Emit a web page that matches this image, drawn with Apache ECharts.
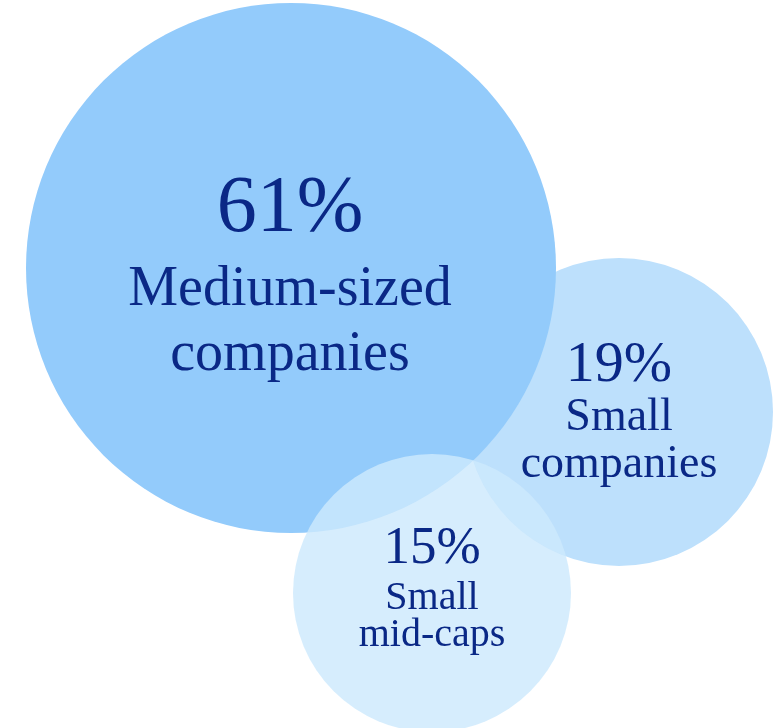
<!DOCTYPE html>
<html>
<head>
<meta charset="utf-8">
<script src="https://cdn.jsdelivr.net/npm/echarts@6/dist/echarts.min.js"></script>
<style>
html,body{margin:0;padding:0;background:#fff;}
#chart{width:773px;height:728px;}
</style>
</head>
<body>
<div id="chart"></div>
<script>
// ---- data ----
var categories = ['Medium-sized companies', 'Small companies', 'Small mid-caps'];
var labelLines = [['Medium-sized', 'companies'], ['Small', 'companies'], ['Small', 'mid-caps']];
var shares = [61, 19, 15];

// ---- layout (pixel-space coordinates of the value axes) ----
var centerX = [291, 619, 432];
var centerY = [268, 412, 593];
var radius = [265, 154, 139];
var drawOrder = [1, 0, 2];
var fills = ['#93CBFB', '#BDE0FC', 'rgba(205,233,253,0.82)'];
var textColor = '#0a2886';
var serif = "'Liberation Serif','Times New Roman',serif";
var rich = [
  {p: {fontSize: 80, lineHeight: 96}, t: {fontSize: 56, lineHeight: 65}, off: [-1, 7]},
  {p: {fontSize: 58, lineHeight: 57}, t: {fontSize: 46, lineHeight: 47}, off: [0, 1]},
  {p: {fontSize: 53, lineHeight: 62}, t: {fontSize: 40, lineHeight: 37}, off: [0, -7]}
];

var seriesData = drawOrder.map(function (i) {
  var r = rich[i];
  return {
    name: categories[i],
    value: [centerX[i], centerY[i], shares[i]],
    symbolSize: radius[i] * 2,
    itemStyle: {color: fills[i]},
    label: {
      show: true,
      position: 'inside',
      offset: r.off,
      formatter: '{p|' + shares[i] + '%}\n' + labelLines[i].map(function (l) { return '{t|' + l + '}'; }).join('\n'),
      rich: {
        p: {fontSize: r.p.fontSize, lineHeight: r.p.lineHeight, fontFamily: serif, color: textColor, align: 'center'},
        t: {fontSize: r.t.fontSize, lineHeight: r.t.lineHeight, fontFamily: serif, color: textColor, align: 'center'}
      }
    }
  };
});

var chart = echarts.init(document.getElementById('chart'), null, {renderer: 'canvas'});
chart.setOption({
  animation: false,
  grid: {left: 0, right: 0, top: 0, bottom: 0},
  xAxis: {type: 'value', min: 0, max: 773, show: false},
  yAxis: {type: 'value', min: 0, max: 728, inverse: true, show: false},
  series: [{
    type: 'scatter',
    silent: true,
    symbol: 'circle',
    data: seriesData,
    itemStyle: {opacity: 1, borderWidth: 0},
    emphasis: {disabled: true}
  }]
});
</script>
</body>
</html>
